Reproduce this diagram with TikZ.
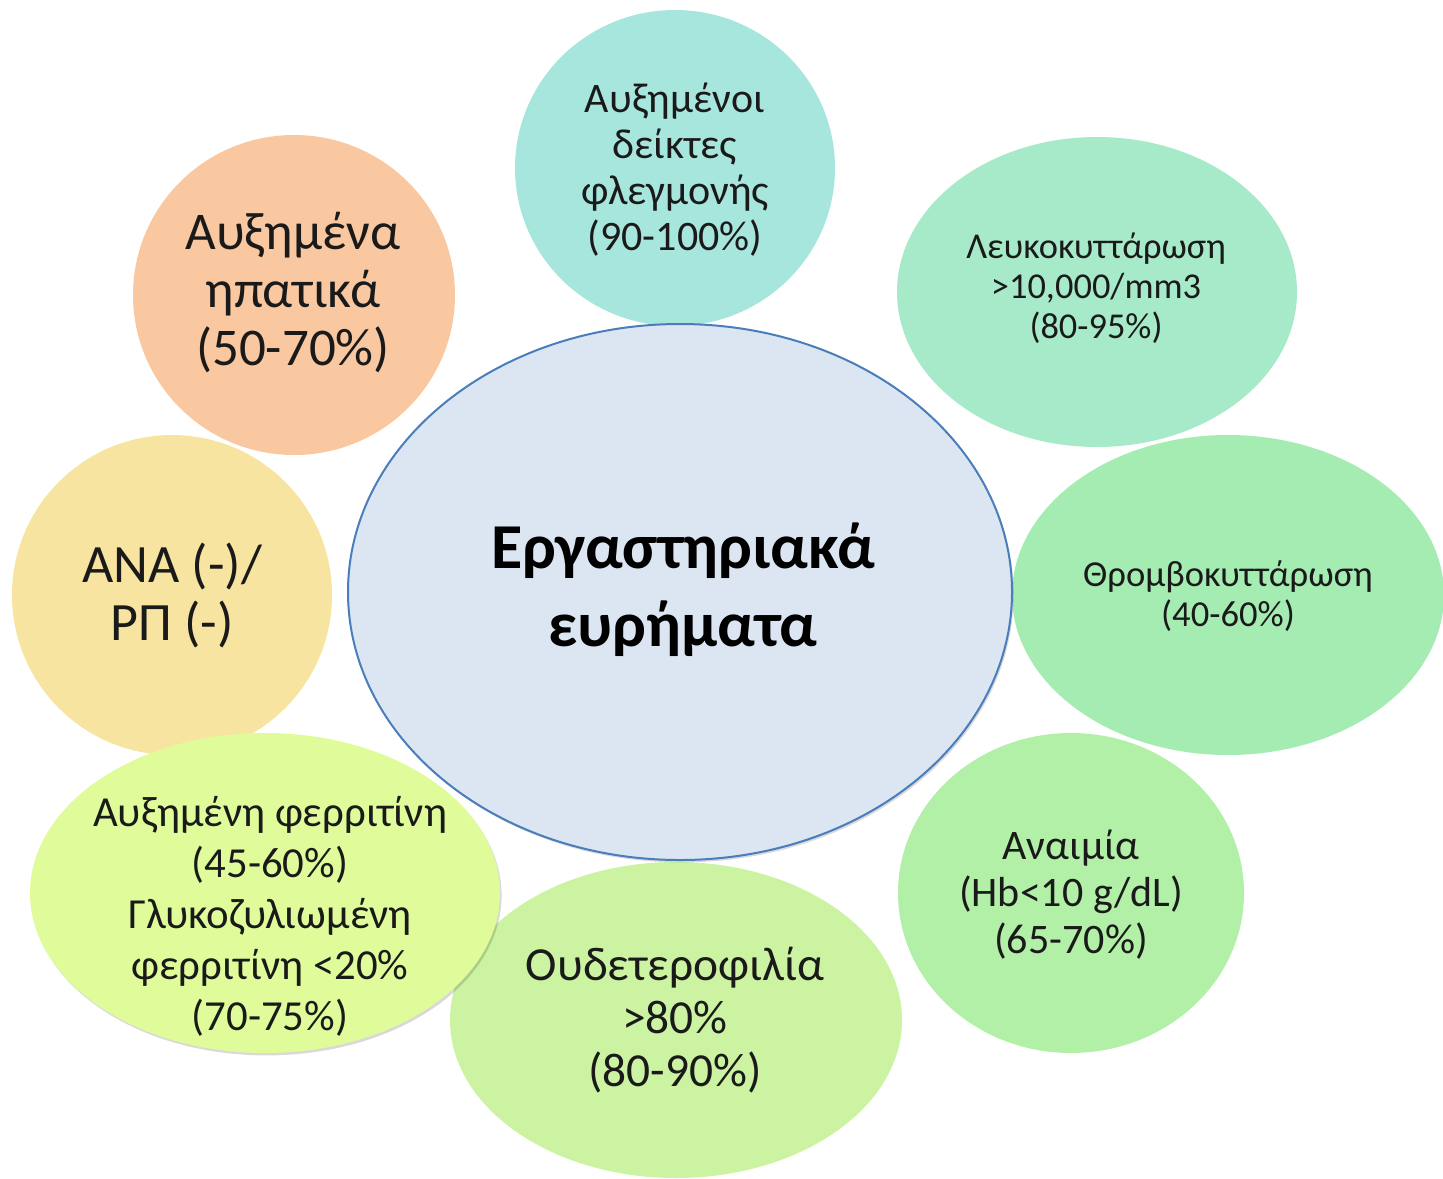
\documentclass[tikz,border=0pt]{standalone}
\usepackage{fontspec}
\setmainfont{Carlito}
\usetikzlibrary{shapes.geometric,shadows}
\definecolor{cteal}{HTML}{A7E6DD}
\definecolor{corange}{HTML}{F9C8A0}
\definecolor{cmint}{HTML}{A6EACA}
\definecolor{cyellow}{HTML}{F7E4A0}
\definecolor{cgreen}{HTML}{A5ECB3}
\definecolor{clime}{HTML}{E0FC9A}
\definecolor{cpale}{HTML}{CCF3A2}
\definecolor{clight}{HTML}{B2F0A8}
\definecolor{ccfill}{HTML}{DCE6F2}
\definecolor{ccdraw}{HTML}{4A7EBB}
\definecolor{ctext}{HTML}{1A1A1A}
\tikzset{
  bub/.style 2 args={ellipse, inner sep=0pt, draw=none, minimum width=#1*0.5pt, minimum height=#2*0.5pt},
  txt/.style={align=center, text=ctext, inner sep=0pt},
  sh/.style={drop shadow={shadow xshift=0.8pt, shadow yshift=-1.2pt, opacity=0.15, fill=black}}
}
\begin{document}
\begin{tikzpicture}[x=0.5pt,y=-0.5pt]
\useasboundingbox (0,0) rectangle (1443,1178);
% bubbles
\node[bub={320}{316}, fill=cteal] (e1) at (675,168) {};
\node[bub={322}{320}, fill=corange] (e2) at (294,295) {};
\node[bub={400}{310}, fill=cmint] (e3) at (1097,292) {};
\node[bub={320}{320}, fill=cyellow] (e4) at (172,595) {};
\node[bub={432}{320}, fill=cgreen] (e5) at (1228,595) {};
\node[bub={452}{316}, fill=cpale] (e7) at (676,1020) {};
\node[bub={346}{320}, fill=clight] (e8) at (1071,893) {};
\node[bub={470}{320}, fill=clime, sh] (e6) at (265,893) {};
\node[bub={664}{536}, fill=ccfill, draw=ccdraw, line width=1pt, sh] (c) at (680,592) {};
% texts
\node[txt, font=\fontsize{32}{39}\selectfont\bfseries, text=black] (tc) at (683,590) {Εργαστηριακά\\ευρήματα};
\node[txt, font=\fontsize{21}{23}\selectfont] (t1) at (675,170) {Αυξημένοι\\δείκτες\\φλεγμονής\\(90-100\%)};
\node[txt, font=\fontsize{26.5}{29}\selectfont] (t2) at (293,293) {Αυξημένα\\ηπατικά\\(50-70\%)};
\node[txt, font=\fontsize{18.2}{20}\selectfont] (t3) at (1096,288) {Λευκοκυττάρωση\\>10,000/mm3\\(80-95\%)};
\node[txt, font=\fontsize{27}{29}\selectfont] (t4) at (172,595) {ΑΝΑ (-)/\\ΡΠ (-)};
\node[txt, font=\fontsize{18.3}{20}\selectfont] (t5) at (1228,596) {Θρομβοκυττάρωση\\(40-60\%)};
\node[txt, font=\fontsize{21.4}{25.5}\selectfont] (t6) at (270,916) {Αυξημένη φερριτίνη\\(45-60\%)\\Γλυκοζυλιωμένη\\φερριτίνη <20\%\\(70-75\%)};
\node[txt, font=\fontsize{23.7}{26.5}\selectfont] (t7) at (675,1020) {Ουδετεροφιλία\\>80\%\\(80-90\%)};
\node[txt, font=\fontsize{21}{23.5}\selectfont] (t8) at (1071,895) {Αναιμία\\(Hb<10 g/dL)\\(65-70\%)};
\end{tikzpicture}
\end{document}
